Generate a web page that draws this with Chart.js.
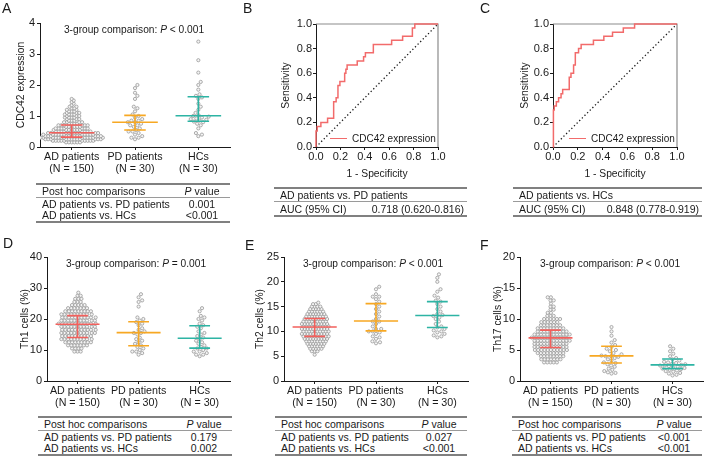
<!DOCTYPE html>
<html>
<head>
<meta charset="utf-8">
<script src="https://cdn.jsdelivr.net/npm/chart.js@4.4.0/dist/chart.umd.min.js"></script>
<style>
  body { margin: 0; background: #fff; }
  #fig { position: relative; width: 709px; height: 460px; overflow: hidden;
         font-family: "Liberation Sans", Arial, sans-serif; color: #1a1a1a; }
  #fig canvas { position: absolute; }
  .letter { position: absolute; font-size: 14px; line-height: 14px; }
  .note { position: absolute; font-size: 10.2px; white-space: nowrap; transform: translate(-50%, -50%); }
  .legend { position: absolute; height: 12px; font-size: 10px; white-space: nowrap; display: flex; align-items: center; }
  .legend .sw { display: inline-block; width: 17px; border-top: 1.6px solid #f26b6b; margin-right: 5px; }
  .tbl { position: absolute; border-top: 2px solid #808080; border-bottom: 2px solid #808080; font-size: 10.5px; }
  .tbl .row { display: flex; height: 11.5px; align-items: center; white-space: nowrap; }
  .tbl .hd { height: 12px; border-bottom: 1px solid #9a9a9a; }
  .tbl .c1 { flex: 1; padding-left: 6px; }
  .tbl .c2 { width: 56px; text-align: center; }
  .tbl .c3 { padding-right: 3px; }
</style>
</head>
<body>
<div id="fig"></div>
<script>
// ---------------- data ----------------
const groupNames = [['AD patients', '(N = 150)'], ['PD patients', '(N = 30)'], ['HCs', '(N = 30)']];
const groupColors = ['#f2605c', '#f7a823', '#2db4a4'];

// AD groups: swarm rows as [value, count]
const cdc42AD = [[0.15,6],[0.2,10],[0.25,12],[0.3,13],[0.35,12],[0.4,11],[0.45,10],[0.5,8],[0.55,7],[0.6,7],[0.65,6],[0.7,6],
  [0.75,4],[0.8,4],[0.85,3],[0.9,3],[0.95,4],[1.0,3],[1.05,4],[1.1,3],[1.15,3],[1.2,2],[1.25,2],[1.3,2],[1.35,1],[1.4,1],[1.45,1],[1.5,1],[1.55,1]];
const cdc42PD = [2.0,1.9,1.75,1.65,1.55,1.3,1.25,1.15,1.05,1.0,0.95,0.9,0.85,0.85,0.8,0.8,0.75,0.7,0.7,0.65,0.6,0.55,0.5,0.5,0.45,0.4,0.35,0.3,0.3,0.25];
const cdc42HC = [3.4,2.8,2.4,2.1,2.0,1.85,1.7,1.65,1.6,1.55,1.4,1.3,1.2,1.1,1.02,1.0,0.98,0.95,0.92,0.9,0.88,0.85,0.82,0.8,0.75,0.7,0.6,0.45,0.4,0.35];
const cdc42Stats = [[0.46,0.32,0.71],[0.8,0.55,1.02],[1.01,0.83,1.62]]; // median, Q1, Q3

const th1AD = [[9.5,3],[10.5,4],[11.5,7],[12.5,9],[13.5,10],[14.5,10],[15.5,11],[16.5,11],[17.5,11],[18.5,12],[19.5,11],[20.5,11],
  [21.5,10],[22.5,9],[23.5,7],[24.5,5],[25.5,3],[26.5,3],[27.5,2],[28.5,1]];
const th1PD = [28,27,26,25.5,24,20.5,20,19.5,19,18.5,18,17,16.5,16,15.5,15.5,15,14,13.5,13,12.5,12,11.5,11,10.5,10,9.5,9.5,9,8.5];
const th1HC = [23.5,22.5,21,20.5,20,19.5,18.5,18,17.5,17,16,15.5,15,14.5,14,13.5,13,12.5,12,11.5,11,10.5,10.5,10,9.5,9.5,9,8.5,8.5,8];
const th1Stats = [[18.3,14.05,21.1],[15.6,11.35,19.1],[13.8,10.6,17.8]];

const th2AD = [[5.3,1],[6,3],[6.5,5],[7,6],[7.5,7],[8,8],[8.5,9],[9,10],[9.5,10],[10,10],[10.5,10],[11,10],[11.5,10],[12,9],
  [12.5,9],[13,8],[13.5,7],[14,6],[14.5,5],[15,4],[15.5,2],[15.8,1]];
const th2PD = [19,18.5,17.5,17,17,16.5,16,15.5,15,14.5,14,13.5,13,12.5,12,12,11.5,11,10.5,10.5,10,10,9.8,9.5,9,8.8,8.5,8,7.8,7.6];
const th2HC = [21.5,20.8,20,18.5,18,17.2,16.8,16.2,16,15.5,15,14.5,14,13.5,13.3,13.1,12.8,12.5,12,11.5,11,10.8,10.5,10.2,10,9.8,9.5,9.2,9,8.8];
const th2Stats = [[10.9,9.0,12.6],[12.1,10.1,15.6],[13.2,10.8,16.0]];

const th17AD = [[3,5],[3.5,7],[4,8],[4.5,9],[5,11],[5.5,11],[6,11],[6.5,12],[7,12],[7.5,12],[8,10],[8.5,9],[9,7],[9.5,6],[10,6],
  [10.5,3],[11,2],[11.5,2],[12,2],[12.5,1],[13,2],[13.5,2]];
const th17PD = [8.7,8,7.3,6.6,6.2,5.8,5.5,5.2,5,4.8,4.5,4.3,4.1,4,4,3.9,3.7,3.5,3.3,3,2.9,2.7,2.5,2.3,2,1.8,1.6,1.4,1.3,1.2];
const th17HC = [5.6,5.2,4.8,4.4,4,3.7,3.5,3.3,3.1,3,2.9,2.8,2.7,2.6,2.5,2.5,2.4,2.3,2.2,2.1,2,1.9,1.8,1.7,1.6,1.5,1.3,1.2,1,0.9];
const th17Stats = [[6.95,5.4,8.2],[4.05,2.9,5.6],[2.6,2.0,3.55]];

// ROC curves (1 - specificity, sensitivity)
const rocB_fpr = [0,0,0.01,0.01,0.04,0.04,0.095,0.095,0.14,0.14,0.147,0.147,0.165,0.165,0.18,0.18,0.196,0.196,0.235,0.235,0.245,0.245,
  0.255,0.255,0.338,0.338,0.39,0.39,0.405,0.405,0.47,0.47,0.62,0.62,0.71,0.71,0.79,0.79,0.81,0.81,1];
const rocB_tpr = [0,0.13,0.13,0.167,0.167,0.2,0.2,0.233,0.233,0.267,0.267,0.367,0.367,0.4,0.4,0.5,0.5,0.533,0.533,0.6,0.6,0.633,
  0.633,0.667,0.667,0.7,0.7,0.733,0.733,0.767,0.767,0.833,0.833,0.867,0.867,0.9,0.9,0.967,0.967,1,1];
const rocC_fpr = [0,0,0.005,0.005,0.01,0.01,0.027,0.027,0.045,0.045,0.065,0.065,0.078,0.078,0.131,0.131,0.145,0.145,0.166,0.166,
  0.18,0.18,0.206,0.206,0.227,0.227,0.326,0.326,0.41,0.41,0.48,0.48,0.567,0.567,0.658,0.658,1];
const rocC_tpr = [0,0.267,0.267,0.3,0.3,0.333,0.333,0.367,0.367,0.4,0.4,0.433,0.433,0.467,0.467,0.567,0.567,0.6,0.6,0.667,
  0.667,0.767,0.767,0.8,0.8,0.833,0.833,0.867,0.867,0.9,0.9,0.933,0.933,0.967,0.967,1,1];
const chanceLine = [0, 1];

const postHocHeader = ['Post hoc comparisons', '<i>P</i> value'];
const postHocA = [['AD patients vs. PD patients', '0.001'], ['AD patients vs. HCs', '&lt;0.001']];
const postHocD = [['AD patients vs. PD patients', '0.179'], ['AD patients vs. HCs', '0.002']];
const postHocE = [['AD patients vs. PD patients', '0.027'], ['AD patients vs. HCs', '&lt;0.001']];
const postHocF = [['AD patients vs. PD patients', '&lt;0.001'], ['AD patients vs. HCs', '&lt;0.001']];
const aucB = ['AD patients vs. PD patients', 'AUC (95% CI)', '0.718 (0.620-0.816)'];
const aucC = ['AD patients vs. HCs', 'AUC (95% CI)', '0.848 (0.778-0.919)'];

// ---------------- helpers ----------------
Chart.defaults.font.family = '"Liberation Sans", Arial, sans-serif';
Chart.defaults.color = '#1a1a1a';
const fig = document.getElementById('fig');
const ink = '#1a1a1a';

function addCanvas(left, top, w, h) {
  const c = document.createElement('canvas');
  c.width = w; c.height = h;
  c.style.left = left + 'px'; c.style.top = top + 'px';
  c.style.width = w + 'px'; c.style.height = h + 'px';
  fig.appendChild(c);
  return c;
}
function addHtml(cls, left, top, html) {
  const d = document.createElement('div');
  d.className = cls; d.style.left = left + 'px'; d.style.top = top + 'px';
  d.innerHTML = html;
  fig.appendChild(d);
  return d;
}
const expand = rows => rows.flatMap(([v, n]) => Array(n).fill(v));

// beeswarm: push dots sideways (in pixels) until they stop overlapping
function swarm(values, center, pxX, pxY, d) {
  const placed = [];
  return values.slice().sort((a, b) => a - b).map(v => {
    const y = v * pxY;
    let x = 0;
    for (let k = 0; k < 600; k++) {
      const cand = (k % 2 ? 1 : -1) * Math.ceil(k / 2) * 0.4;
      if (placed.every(p => (p.x - cand) ** 2 + (p.y - y) ** 2 >= d * d)) { x = cand; break; }
    }
    placed.push({x, y});
    return {x: center + x / pxX, y: v};
  });
}

const axisGrid = {display: true, drawOnChartArea: false, drawTicks: true, tickLength: 3, color: ink};
const axisBorder = {display: true, color: ink, width: 1};

function dotPanel(o) {
  const cv = addCanvas(o.left, o.top, o.w, o.h);
  const plotW = o.w - o.padL - o.yW - o.padR, plotH = o.h - o.padT - o.xH;
  const pxX = plotW / 3, pxY = plotH / o.yMax;
  const datasets = [];
  o.groups.forEach((vals, i) => {
    datasets.push({data: swarm(vals, i, pxX, pxY, i === 0 ? o.d : 3.8), pointRadius: 1.6, pointBorderWidth: 0.8,
      pointBorderColor: '#999', pointBackgroundColor: '#f4f4f4', order: 2});
  });
  o.stats.forEach(([med, q1, q3], i) => {
    datasets.push({type: 'line', order: 1, borderColor: groupColors[i], borderWidth: 1.6, pointRadius: 0, spanGaps: false,
      data: [{x: i - 0.36, y: med}, {x: i + 0.36, y: med}, {x: i, y: null},
             {x: i - 0.17, y: q1}, {x: i + 0.17, y: q1}, {x: i, y: null},
             {x: i - 0.17, y: q3}, {x: i + 0.17, y: q3}, {x: i, y: null},
             {x: i, y: q1}, {x: i, y: q3}]});
  });
  new Chart(cv, {
    type: 'scatter',
    data: {datasets},
    options: {
      responsive: false, animation: false, events: [],
      layout: {padding: {left: o.padL, right: o.padR, top: o.padT, bottom: 0}},
      plugins: {legend: {display: false}, tooltip: {enabled: false}},
      scales: {
        x: {type: 'linear', min: -0.5, max: 2.5,
            afterBuildTicks: s => { s.ticks = [0, 1, 2].map(v => ({value: v})); },
            afterFit: s => { s.height = o.xH; },
            ticks: {callback: v => groupNames[v], color: ink, font: {size: 10.7, lineHeight: 1.1}, padding: 1, autoSkip: false, maxRotation: 0},
            grid: axisGrid, border: axisBorder},
        y: {min: 0, max: o.yMax,
            afterFit: s => { s.width = o.yW; },
            ticks: {stepSize: o.step, color: ink, font: {size: 11}, padding: 2},
            grid: axisGrid, border: axisBorder,
            title: {display: true, text: o.yTitle, color: ink, font: {size: 10.3}, padding: {top: 4, bottom: 4}}}
      }
    }
  });
  addHtml('note', o.noteX, o.noteY, '3-group comparison: ' + o.note);
}

const rocFrame = {
  id: 'rocFrame',
  beforeDatasetsDraw(c) {
    const a = c.chartArea, ctx = c.ctx;
    ctx.save();
    ctx.strokeStyle = '#8c8c8c'; ctx.lineWidth = 1.2;
    ctx.beginPath(); ctx.moveTo(a.left, a.top); ctx.lineTo(a.right, a.top); ctx.lineTo(a.right, a.bottom); ctx.stroke();
    ctx.restore();
  }
};

function rocPanel(o) {
  const cv = addCanvas(o.left, o.top, o.w, o.h);
  new Chart(cv, {
    type: 'scatter',
    data: {datasets: [
      {data: o.fpr.map((x, i) => ({x, y: o.tpr[i]})), showLine: true, borderColor: '#f26b6b', borderWidth: 1.5, pointRadius: 0, clip: 3, order: 1},
      {data: chanceLine.map(v => ({x: v, y: v})), showLine: true, borderColor: ink, borderWidth: 1.3, borderDash: [1.3, 2.4], pointRadius: 0, order: 2}
    ]},
    options: {
      responsive: false, animation: false, events: [],
      layout: {padding: {left: o.padL, right: o.padR, top: o.padT, bottom: 0}},
      plugins: {legend: {display: false}, tooltip: {enabled: false}},
      scales: {
        x: {min: 0, max: 1, afterFit: s => { s.height = o.xH; },
            ticks: {stepSize: 0.2, callback: v => v.toFixed(1), color: ink, font: {size: 11}, padding: 0},
            grid: axisGrid, border: axisBorder,
            title: {display: true, text: '1 - Specificity', color: ink, font: {size: 10.3}, padding: {top: 4, bottom: 4}}},
        y: {min: 0, max: 1, afterFit: s => { s.width = o.yW; },
            ticks: {stepSize: 0.2, callback: v => v.toFixed(1), color: ink, font: {size: 11}, padding: 1},
            grid: axisGrid, border: axisBorder,
            title: {display: true, text: 'Sensitivity', color: ink, font: {size: 10.3}, padding: {top: 4, bottom: 4}}}
      }
    },
    plugins: [rocFrame]
  });
  addHtml('legend', o.legX, 132, '<span class="sw"></span>CDC42 expression');
}

function postHocTable(left, top, width, rows) {
  let html = '<div class="row hd"><span class="c1">' + postHocHeader[0] + '</span><span class="c2">' + postHocHeader[1] + '</span></div>';
  rows.forEach(r => { html += '<div class="row"><span class="c1">' + r[0] + '</span><span class="c2">' + r[1] + '</span></div>'; });
  addHtml('tbl', left, top, html).style.width = width + 'px';
}
function aucTable(left, top, width, t) {
  const html = '<div class="row hd"><span class="c1">' + t[0] + '</span></div>' +
    '<div class="row" style="height:13px"><span class="c1">' + t[1] + '</span><span class="c3">' + t[2] + '</span></div>';
  addHtml('tbl', left, top, html).style.width = width + 'px';
}

// ---------------- panels ----------------
dotPanel({left: 0, top: 0, w: 235, h: 178, padL: 11, yW: 29, padR: 5, padT: 23, xH: 31, yMax: 4, step: 1, d: 2.5,
  yTitle: 'CDC42 expression', groups: [expand(cdc42AD), cdc42PD, cdc42HC], stats: cdc42Stats,
  note: '<i>P</i> &lt; 0.001', noteX: 134, noteY: 29});
dotPanel({left: 0, top: 230, w: 235, h: 180, padL: 15, yW: 32, padR: 2, padT: 27, xH: 29, yMax: 40, step: 10, d: 3.2,
  yTitle: 'Th1 cells (%)', groups: [expand(th1AD), th1PD, th1HC], stats: th1Stats,
  note: '<i>P</i> = 0.001', noteX: 136, noteY: 263});
dotPanel({left: 235, top: 230, w: 240, h: 180, padL: 15, yW: 34, padR: 7, padT: 27, xH: 29, yMax: 25, step: 5, d: 2.7,
  yTitle: 'Th2 cells (%)', groups: [expand(th2AD), th2PD, th2HC], stats: th2Stats,
  note: '<i>P</i> &lt; 0.001', noteX: 373, noteY: 263});
dotPanel({left: 470, top: 230, w: 239, h: 180, padL: 18, yW: 32, padR: 6, padT: 27, xH: 29, yMax: 20, step: 5, d: 3.1,
  yTitle: 'Th17 cells (%)', groups: [expand(th17AD), th17PD, th17HC], stats: th17Stats,
  note: '<i>P</i> &lt; 0.001', noteX: 610, noteY: 263});

rocPanel({left: 235, top: 0, w: 240, h: 184, padL: 41, yW: 40, padR: 37, padT: 24, xH: 37, fpr: rocB_fpr, tpr: rocB_tpr, legX: 330});
rocPanel({left: 470, top: 0, w: 239, h: 184, padL: 45, yW: 38, padR: 32, padT: 24, xH: 37, fpr: rocC_fpr, tpr: rocC_tpr, legX: 569});

postHocTable(36, 183, 194, postHocA);
postHocTable(38, 416, 194, postHocD);
postHocTable(275, 416, 192, postHocE);
postHocTable(512, 416, 190, postHocF);
aucTable(274, 187, 193, aucB);
aucTable(513, 187, 189, aucC);

[['A', 2, 1], ['B', 243, 1], ['C', 480, 1], ['D', 3, 236], ['E', 245, 238], ['F', 480, 238]]
  .forEach(([t, x, y]) => addHtml('letter', x, y, t));
</script>
</body>
</html>
